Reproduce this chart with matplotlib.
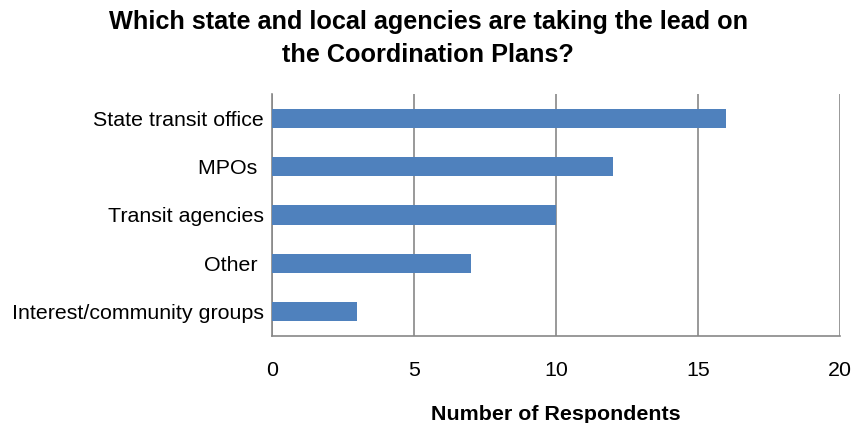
import matplotlib.pyplot as plt

plt.rcParams['font.family'] = ['Liberation Sans', 'DejaVu Sans']

# data, top to bottom as shown in the chart
categories = ["State transit office", "MPOs ", "Transit agencies", "Other ",
              "Interest/community groups"]
respondents = [16, 12, 10, 7, 3]
x_ticks = [0, 5, 10, 15, 20]

fig = plt.figure(figsize=(8.53, 4.23), dpi=100)
ax = fig.add_axes([0.3189, 0.2057, 0.6659, 0.5721])

ypos = list(range(len(categories)))[::-1]
ax.barh(ypos, respondents, height=0.4, color="#4F81BD", zorder=3)

ax.set_xlim(0, 20)
ax.set_ylim(-0.5, len(categories) - 0.5)
ax.set_xticks(x_ticks)
ax.set_xticklabels([str(t) for t in x_ticks], fontsize=15.4)
ax.set_yticks(ypos)
ax.set_yticklabels(categories, fontsize=15.4)
ax.tick_params(axis="both", length=0)
ax.tick_params(axis="x", pad=18)
ax.tick_params(axis="y", pad=6)

ax.grid(axis="x", color="#888888", linewidth=1.2, zorder=0)
for side in ["top", "right"]:
    ax.spines[side].set_visible(False)
for side in ["left", "bottom"]:
    ax.spines[side].set_color("#888888")
    ax.spines[side].set_linewidth(1.2)

ax.set_xlabel("Number of Respondents", fontsize=15.4, fontweight="bold", labelpad=18)
fig.suptitle("Which state and local agencies are taking the lead on\nthe Coordination Plans?",
             x=0.502, y=0.977, fontsize=18.2, fontweight="bold", linespacing=1.48)

fig.savefig("out.png", dpi=100)
